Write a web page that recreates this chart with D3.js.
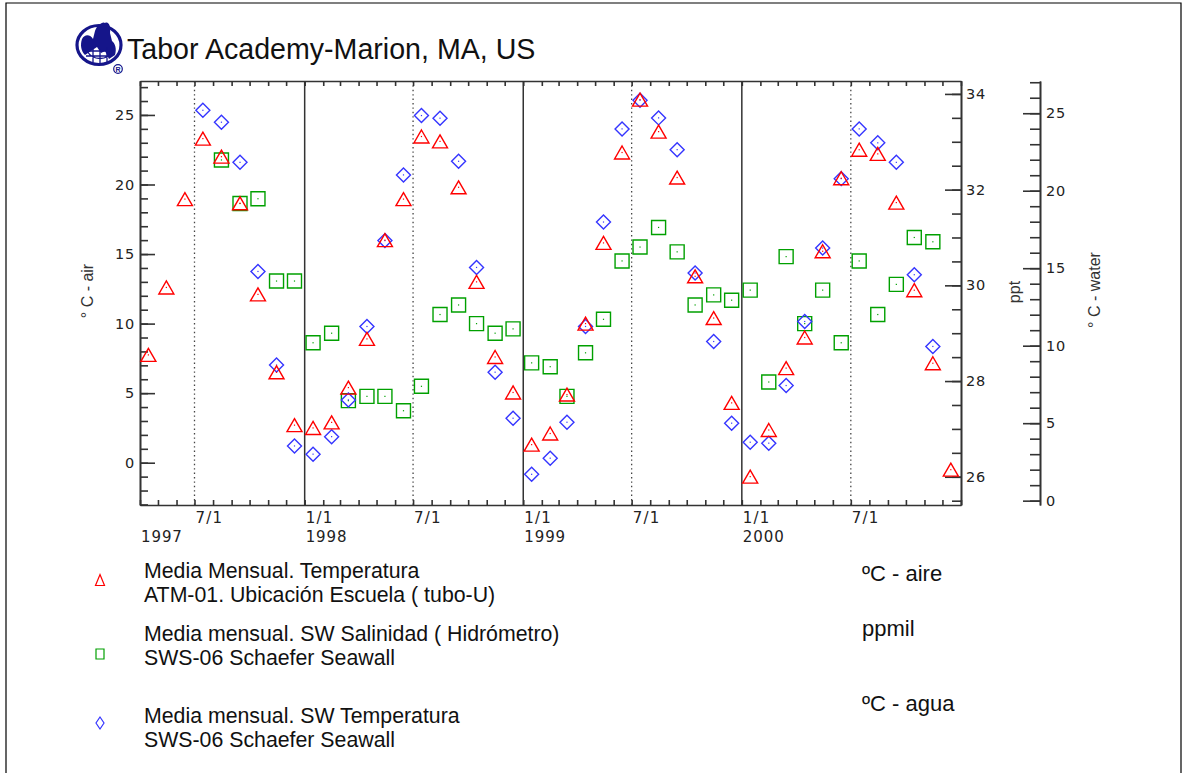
<!DOCTYPE html>
<html><head><meta charset="utf-8">
<script src="https://cdn.jsdelivr.net/npm/d3@7"></script>
<style>body{margin:0;background:#fff}</style>
</head><body><svg id="c" width="1184" height="773"></svg>
<script>
// ---------------- DATA ----------------
const months = [
  "1997-04","1997-05","1997-06","1997-07","1997-08","1997-09","1997-10","1997-11","1997-12",
  "1998-01","1998-02","1998-03","1998-04","1998-05","1998-06","1998-07","1998-08","1998-09","1998-10","1998-11","1998-12",
  "1999-01","1999-02","1999-03","1999-04","1999-05","1999-06","1999-07","1999-08","1999-09","1999-10","1999-11","1999-12",
  "2000-01","2000-02","2000-03","2000-04","2000-05","2000-06","2000-07","2000-08","2000-09","2000-10","2000-11","2000-12"
];
const airTemp = [
  7.75, 12.6, 18.95, 23.3, 22.0, 18.65, 12.1, 6.5, 2.7,
  2.5, 2.9, 5.4, 8.9, 16.0, 18.95, 23.45, 23.1, 19.8, 13.0, 7.6, 5.05,
  1.3, 2.1, 4.9, 10.0, 15.8, 22.3, 26.1, 23.8, 20.5, 13.4, 10.4, 4.3,
  -1.0, 2.35, 6.8, 9.0, 15.2, 20.45, 22.5, 22.2, 18.7, 12.4, 7.15, -0.5
];
const salinity = [
  null, null, null, null, 32.62, 31.71, 31.81, 30.09, 30.09,
  28.8, 29.0, 27.59, 27.68, 27.68, 27.38, 27.89, 29.39, 29.59, 29.2, 29.0, 29.09,
  28.38, 28.3, 27.68, 28.59, 29.29, 30.51, 30.8, 31.21, 30.7, 29.59, 29.8, 29.69,
  29.9, 27.98, 30.6, 29.2, 29.9, 28.8, 30.51, 29.39, 30.02, 31.0, 30.91, null
];
const waterTemp = [
  null, null, null, 25.19, 24.42, 21.83, 14.79, 8.75, 3.53,
  3.0, 4.13, 6.5, 11.24, 16.78, 21.02, 24.85, 24.68, 21.9, 15.05, 8.29, 5.32,
  1.7, 2.74, 5.06, 11.24, 17.98, 23.99, 25.84, 24.7, 22.65, 14.69, 10.27, 5.0,
  3.77, 3.71, 7.43, 11.56, 16.3, 20.78, 23.99, 23.09, 21.83, 14.58, 9.95, null
];
const airTicks = [0, 5, 10, 15, 20, 25];
const salTicks = [26, 28, 30, 32, 34];
const waterTicks = [0, 5, 10, 15, 20, 25];
const xTickDates = ["1997-07-01","1998-01-01","1998-07-01","1999-01-01","1999-07-01","2000-01-01","2000-07-01"];
const xTickLabels = ["7/1","1/1","7/1","1/1","7/1","1/1","7/1"];
const yearDates = ["1997-04-01","1998-01-01","1999-01-01","2000-01-01"];
const yearLabels = ["1997","1998","1999","2000"];
const legendLines = [
  ["Media Mensual. Temperatura", "ATM-01. Ubicación Escuela ( tubo-U)"],
  ["Media mensual. SW Salinidad ( Hidrómetro)", "SWS-06 Schaefer Seawall"],
  ["Media mensual. SW Temperatura", "SWS-06 Schaefer Seawall"]
];
const legendUnits = ["ºC - aire", "ppmil", "ºC - agua"];

// ---------------- LAYOUT ----------------
const svg = d3.select("#c");
const L = 140, R = 961, T = 81, B = 505, WX = 1040;
const RED = "#ff0000", GREEN = "#00a000", BLUE = "#3535ff";
const tickFont = "'DejaVu Sans', sans-serif";
const parse = d3.utcParse("%Y-%m-%d");
const dates = months.map(m => parse(m + "-15"));

const x = d3.scaleUtc().domain([parse("1997-04-01"), parse("2001-01-01")]).range([L, R]);
const yAir = d3.scaleLinear().domain([-3.04, 27.44]).range([B, T]);
const ySal = d3.scaleLinear().domain([25.41, 34.27]).range([B, T]);
const yWat = d3.scaleLinear().domain([-0.28, 27.08]).range([B, T]);

svg.append("rect").attr("width", 1184).attr("height", 773).attr("fill", "#fff");
svg.append("path").attr("d", "M6,773V3H1181V773").attr("fill", "none").attr("stroke", "#000").attr("stroke-width", 1.2);

// ---------------- LOGO ----------------
const logo = svg.append("g").attr("transform", "translate(99,45)");
const NAVY = "#15158a";
logo.append("ellipse").attr("rx", 22).attr("ry", 19.5).attr("fill", "#fff").attr("stroke", NAVY).attr("stroke-width", 3.2);
logo.append("path").attr("fill", NAVY)
  .attr("d", "M-17,-6 C-14,-12 -8,-10 -6,-6 L-4,-14 C-2,-20 4,-24 6,-22 C10,-24 12,-18 11,-12 L13,-4 C16,-2 18,4 16,10 L10,14 L6,6 L2,8 L-2,2 L-8,6 L-14,10 C-18,6 -19,0 -17,-6 Z");
logo.append("path").attr("fill", "none").attr("stroke", NAVY).attr("stroke-width", 1.3)
  .attr("d", "M-12,6 C-6,16 8,16 14,6 M-13,11 L13,11 M-6,2 L-6,17 M1,4 L1,18 M8,2 L8,17 M-14,6 L15,6");
logo.append("circle").attr("cx", 19).attr("cy", 24).attr("r", 4.3).attr("fill", "#fff").attr("stroke", NAVY).attr("stroke-width", 1.2);
logo.append("text").attr("x", 19).attr("y", 26.8).attr("text-anchor", "middle").attr("font-size", 7).attr("font-weight", "bold")
  .attr("font-family", "Liberation Sans, Arial, sans-serif").attr("fill", NAVY).text("R");

// ---------------- TITLE ----------------
svg.append("text").attr("x", 127).attr("y", 59).attr("font-family", "'Liberation Sans', Arial, sans-serif")
  .attr("font-size", 28.6).attr("fill", "#111").text("Tabor Academy-Marion, MA, US");

// ---------------- GRID LINES ----------------
const yearStarts = xTickDates.filter((d, i) => xTickLabels[i] === "1/1").map(parse);
const midYears = xTickDates.filter((d, i) => xTickLabels[i] === "7/1").map(parse);
svg.append("g").selectAll("line").data(yearStarts).join("line")
  .attr("x1", d => x(d)).attr("x2", d => x(d)).attr("y1", T).attr("y2", B)
  .attr("stroke", "#333").attr("stroke-width", 1.5);
svg.append("g").selectAll("line").data(midYears).join("line")
  .attr("x1", d => x(d)).attr("x2", d => x(d)).attr("y1", T).attr("y2", B)
  .attr("stroke", "#444").attr("stroke-width", 1.3).attr("stroke-dasharray", "1.4,3");

// ---------------- AXES ----------------
function styleAxis(g) {
  g.selectAll("path.domain").attr("stroke", "#333").attr("stroke-width", 1.6);
  g.selectAll(".tick line").attr("stroke", "#333").attr("stroke-width", 1.6);
  g.selectAll(".tick text").attr("font-family", tickFont).attr("font-size", 14.5).attr("fill", "#222").attr("letter-spacing", 0.8);
}
const monthTicks = x.ticks(d3.utcMonth.every(1));
svg.append("g").attr("transform", `translate(0,${B})`)
  .call(d3.axisBottom(x).tickValues(monthTicks).tickSizeInner(-5).tickSizeOuter(0).tickFormat(""))
  .call(styleAxis);
svg.append("g").attr("transform", `translate(0,${T})`)
  .call(d3.axisTop(x).tickValues(monthTicks).tickSizeInner(-5).tickSizeOuter(0).tickFormat(""))
  .call(styleAxis);

svg.append("g").attr("transform", `translate(${L},0)`)
  .call(d3.axisLeft(yAir).tickValues(d3.range(-3, 28, 1)).tickSizeInner(-8).tickSizeOuter(0).tickFormat(""))
  .call(styleAxis);
svg.append("g").attr("transform", `translate(${L},0)`)
  .call(d3.axisLeft(yAir).tickValues(airTicks).tickSizeInner(-15).tickSizeOuter(0).tickPadding(5).tickFormat(d3.format("d")))
  .call(styleAxis);

svg.append("g").attr("transform", `translate(${R},0)`)
  .call(d3.axisRight(ySal).tickValues(d3.range(25.5, 34.3, 0.5)).tickSizeInner(-9).tickSizeOuter(0).tickFormat(""))
  .call(styleAxis);
svg.append("g").attr("transform", `translate(${R},0)`)
  .call(d3.axisRight(ySal).tickValues(salTicks).tickSizeInner(-16).tickSizeOuter(0).tickPadding(5).tickFormat(d3.format("d")))
  .call(styleAxis);

svg.append("g").attr("transform", `translate(${WX},0)`)
  .call(d3.axisRight(yWat).tickValues(d3.range(0, 28, 1)).tickSizeInner(-10).tickSizeOuter(0).tickFormat(""))
  .call(styleAxis);
svg.append("g").attr("transform", `translate(${WX},0)`)
  .call(d3.axisRight(yWat).tickValues(waterTicks).tickSizeInner(-17).tickSizeOuter(0).tickPadding(6).tickFormat(d3.format("d")))
  .call(styleAxis);

svg.append("g").selectAll("text").data(xTickDates).join("text")
  .attr("x", d => x(parse(d)) + 1).attr("y", 523)
  .attr("font-family", tickFont).attr("font-size", 15).attr("letter-spacing", 1.2).attr("fill", "#222")
  .text((d, i) => xTickLabels[i]);
svg.append("g").selectAll("text").data(yearDates).join("text")
  .attr("x", d => x(parse(d)) + 1).attr("y", 541.5)
  .attr("font-family", tickFont).attr("font-size", 15).attr("letter-spacing", 0.9).attr("fill", "#222")
  .text((d, i) => yearLabels[i]);

const axTitle = (tx, ty, s) => svg.append("text").attr("transform", `translate(${tx},${ty}) rotate(-90)`)
  .attr("text-anchor", "middle").attr("font-family", "'Liberation Sans', Arial, sans-serif")
  .attr("font-size", 16).attr("fill", "#333").text(s);
axTitle(93, 291, "° C - air");
axTitle(1020, 292, "ppt");
axTitle(1100, 290, "° C - water");

// ---------------- MARKERS ----------------
const triPath = (w, h) => `M0,${-h/2}L${w/2},${h/2}L${-w/2},${h/2}Z`;
const sqPath = (w, h) => `M${-w/2},${-h/2}H${w/2}V${h/2}H${-w/2}Z`;
const diaPath = (w, h) => `M0,${-h/2}L${w/2},0L0,${h/2}L${-w/2},0Z`;

function drawSeries(vals, yScale, path, color) {
  const pts = vals.map((v, i) => ({ d: dates[i], v })).filter(p => p.v !== null);
  const g = svg.append("g");
  g.selectAll("path").data(pts).join("path")
    .attr("transform", p => `translate(${x(p.d)},${yScale(p.v)})`)
    .attr("d", path).attr("fill", "none").attr("stroke", color).attr("stroke-width", 1.4);
  g.selectAll("rect").data(pts).join("rect")
    .attr("x", p => x(p.d) - 0.6).attr("y", p => yScale(p.v) - 0.6).attr("width", 1.2).attr("height", 1.2).attr("fill", color);
}
drawSeries(salinity, ySal, sqPath(14, 14), GREEN);
drawSeries(waterTemp, yWat, diaPath(14, 14), BLUE);
drawSeries(airTemp, yAir, triPath(15, 13), RED);

// ---------------- LEGEND ----------------
const legY = [571, 634, 716];
const legMarkY = [580, 654, 723];
const legPaths = [triPath(9, 11), sqPath(8, 10), diaPath(8, 12)];
const legColors = [RED, GREEN, BLUE];
const unitY = [581, 636, 711];
legendLines.forEach((lines, i) => {
  svg.append("path").attr("transform", `translate(100,${legMarkY[i]})`).attr("d", legPaths[i])
    .attr("fill", "none").attr("stroke", legColors[i]).attr("stroke-width", 1.2);
  lines.forEach((t, j) => {
    svg.append("text").attr("x", 144).attr("y", legY[i] + 7 + j * 23.5)
      .attr("font-family", "'Liberation Sans', Arial, sans-serif").attr("font-size", 21.3).attr("fill", "#111").text(t);
  });
  svg.append("text").attr("x", 862).attr("y", unitY[i])
    .attr("font-family", "'Liberation Sans', Arial, sans-serif").attr("font-size", 22).attr("fill", "#111").text(legendUnits[i]);
});
</script></body></html>
